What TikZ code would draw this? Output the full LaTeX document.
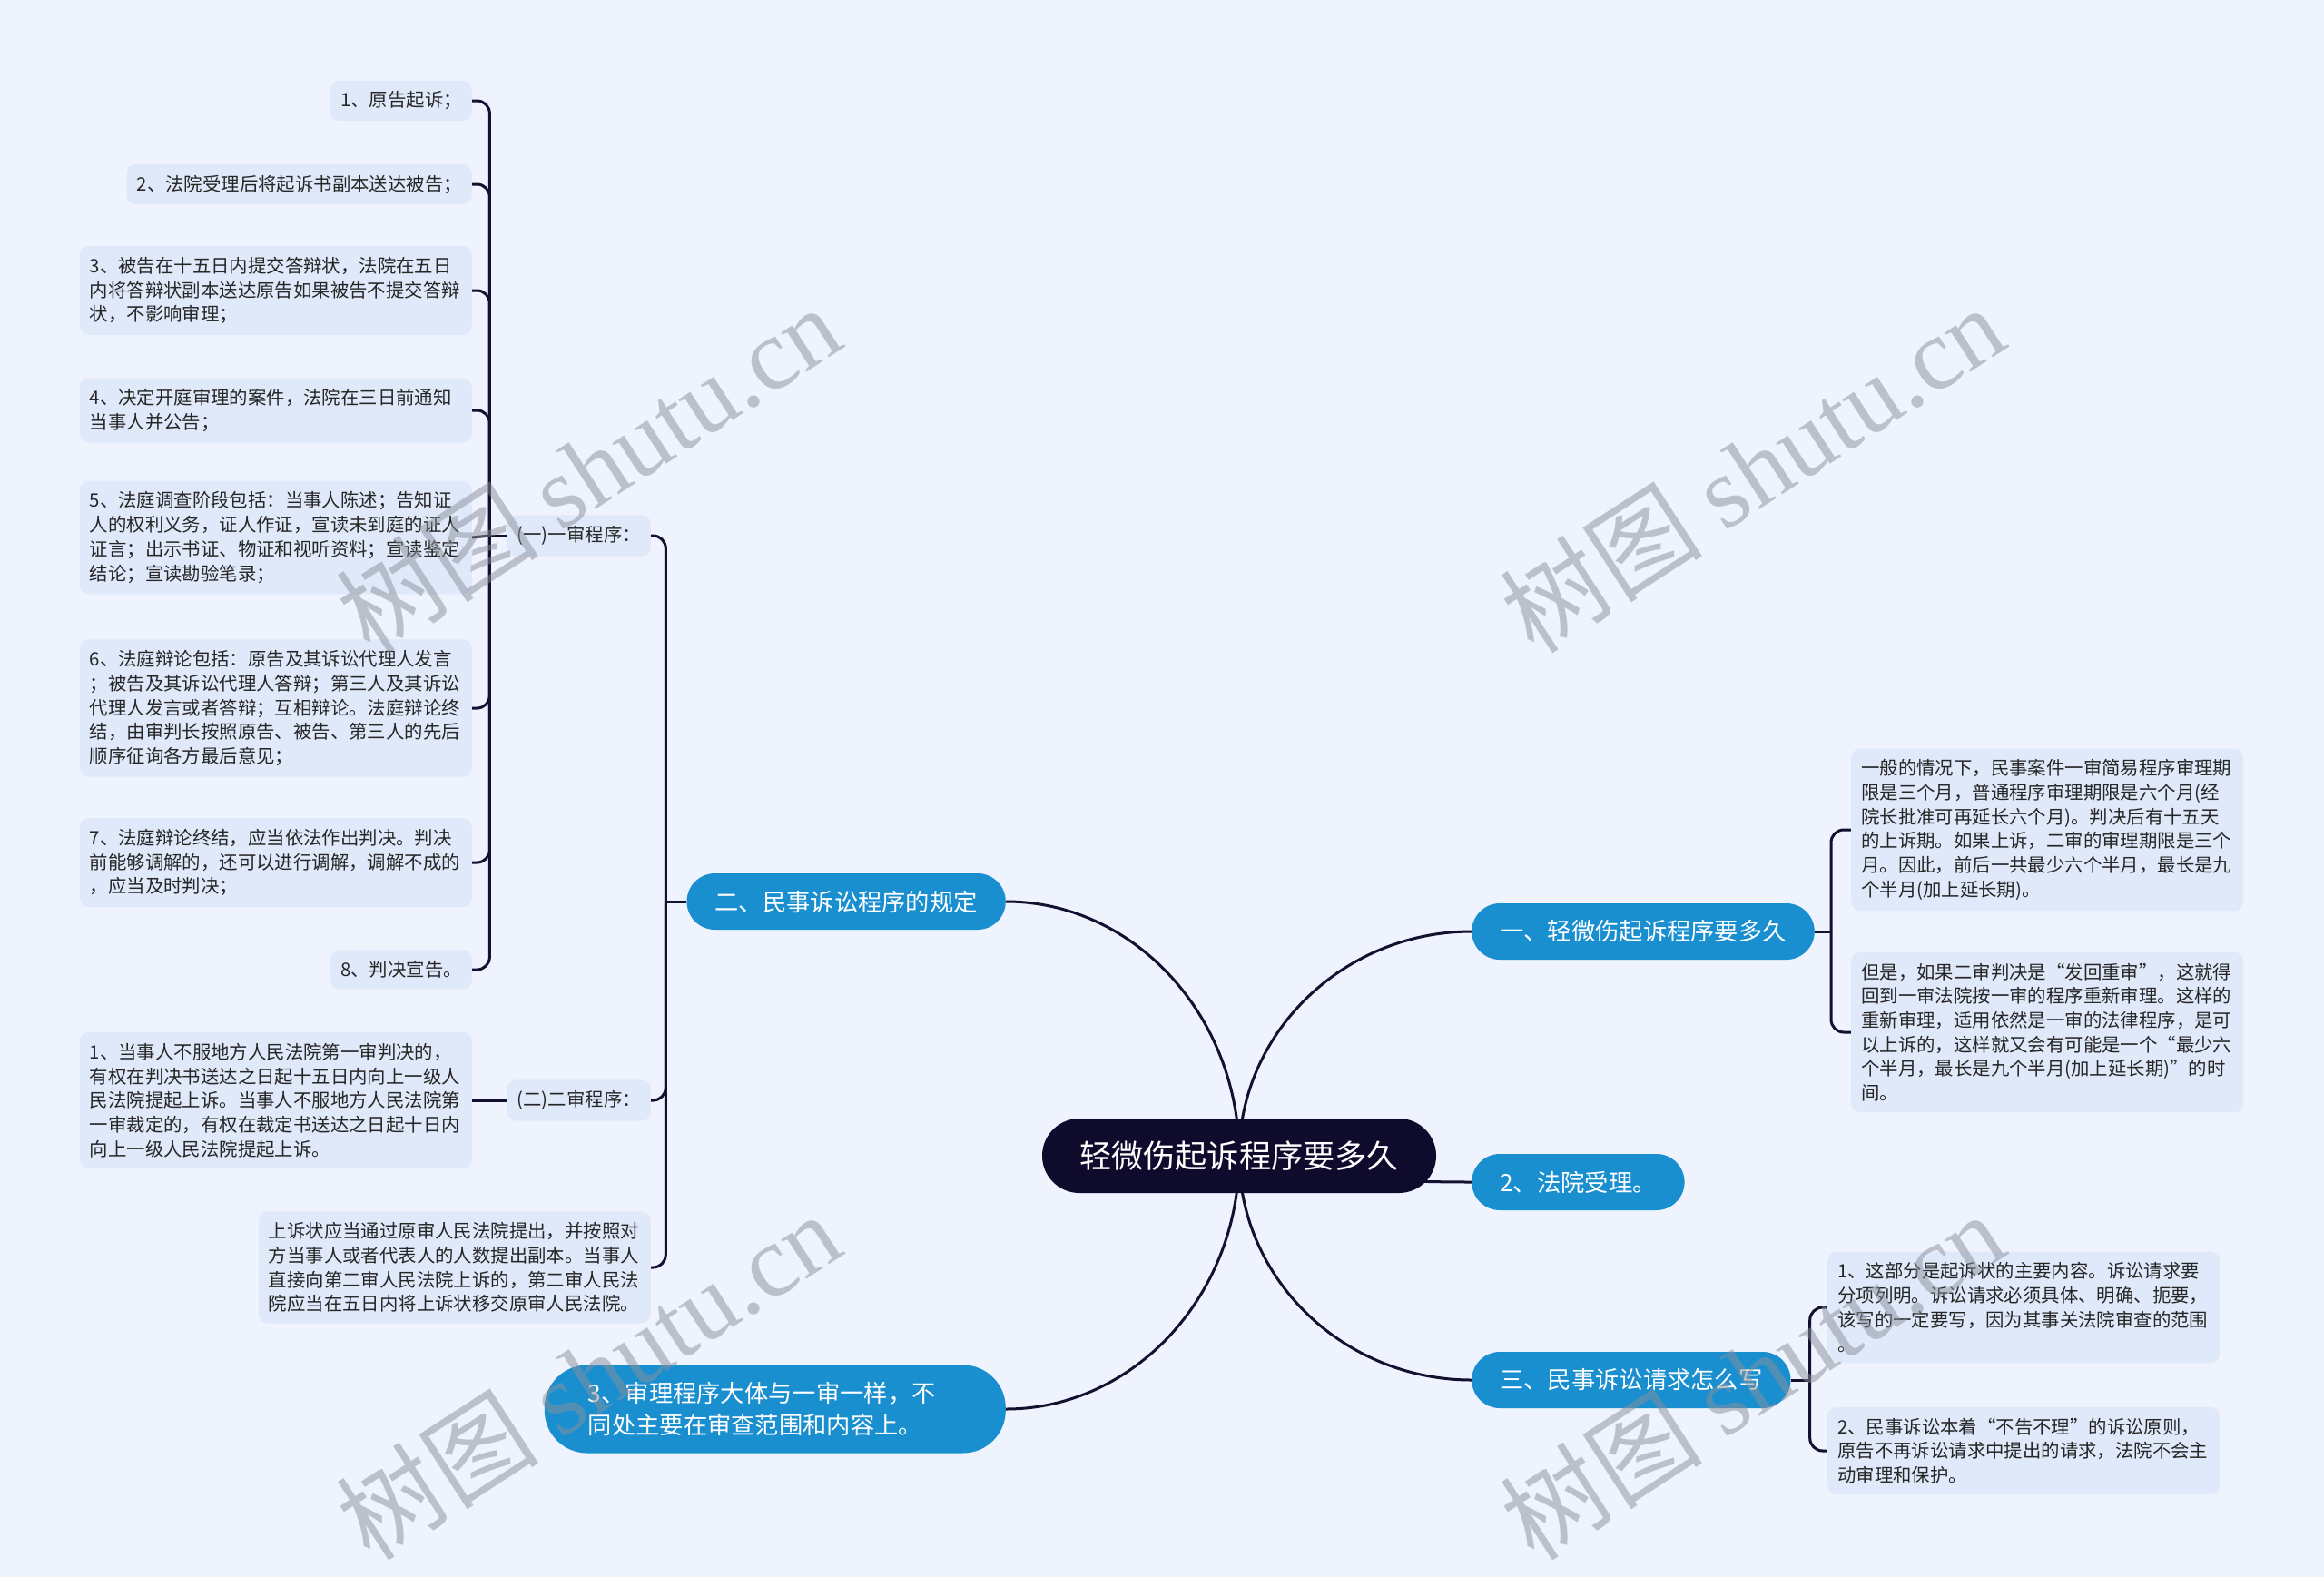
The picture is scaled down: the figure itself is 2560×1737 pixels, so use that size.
\documentclass[tikz,border=0pt]{standalone}
\usepackage{fontspec}
\setmainfont{Noto Sans CJK SC}
\newfontfamily\wmserif{Liberation Serif}
\newfontfamily\wmcjk{Noto Sans CJK SC}
\usetikzlibrary{backgrounds,calc}
\definecolor{bgc}{HTML}{EEF3FD}
\definecolor{leafc}{HTML}{E0E9FA}
\definecolor{brc}{HTML}{1A8FD0}
\definecolor{rootc}{HTML}{0F0B2D}
\definecolor{linec}{HTML}{12112F}
\definecolor{txtc}{HTML}{262626}
\definecolor{wmc}{HTML}{8A8F99}
\begin{document}
\begin{tikzpicture}[x=1pt,y=-1pt,
  rootn/.style={fill=rootc, text=white, rounded corners=41pt, minimum height=82pt, inner xsep=41pt, font=\fontsize{35.2}{42}\selectfont},
  brn/.style={fill=brc, text=white, rounded corners=31pt, minimum height=62pt, inner xsep=31pt, font=\fontsize{26.3}{35}\selectfont},
  leafn/.style={fill=leafc, text=txtc, rounded corners=10pt, inner xsep=11pt, inner ysep=12pt, align=left, font=\fontsize{20.4}{26.7}\selectfont},
  leafw/.style={leafn, text width=410pt},
  link/.style={draw=linec, line width=3pt},
  wm/.style={text=wmc, text opacity=0.5, font=\fontsize{112}{124}\selectfont, rotate=33}
]
\useasboundingbox (0,0) rectangle (2560,1737);

% root and main branches
\node[rootn] (root) at (1365,1273) {轻微伤起诉程序要多久};
\node[brn, anchor=west] (b1) at (1621,1026) {一、轻微伤起诉程序要多久};
\node[brn, anchor=west] (b2) at (1621,1302) {2、法院受理。};
\node[brn, anchor=west] (b3) at (1621,1520) {三、民事诉讼请求怎么写};
\node[brn, anchor=east] (b4) at (1108,993) {二、民事诉讼程序的规定};
\node[brn, anchor=east, align=left, text width=412pt, inner xsep=48pt, minimum height=97pt, rounded corners=47pt] (b5) at (1108,1552) {3、审理程序大体与一审一样，不\\同处主要在审查范围和内容上。};

% right leaves
\node[leafw, anchor=west] (lA) at (2039,914) {一般的情况下，民事案件一审简易程序审理期\\限是三个月，普通程序审理期限是六个月(经\\院长批准可再延长六个月)。判决后有十五天\\的上诉期。如果上诉，二审的审理期限是三个\\月。因此，前后一共最少六个半月，最长是九\\个半月(加上延长期)。};
\node[leafw, anchor=west] (lB) at (2039,1137) {但是，如果二审判决是“发回重审”，这就得\\回到一审法院按一审的程序重新审理。这样的\\重新审理，适用依然是一审的法律程序，是可\\以上诉的，这样就又会有可能是一个“最少六\\个半月，最长是九个半月(加上延长期)”的时\\间。};
\node[leafw, anchor=west] (lC) at (2013,1440) {1、这部分是起诉状的主要内容。诉讼请求要\\分项列明。诉讼请求必须具体、明确、扼要，\\该写的一定要写，因为其事关法院审查的范围\\。};
\node[leafw, anchor=west] (lD) at (2013,1598) {2、民事诉讼本着“不告不理”的诉讼原则，\\原告不再诉讼请求中提出的请求，法院不会主\\动审理和保护。};

% left sub nodes
\node[leafn, anchor=east] (s1) at (717,590) {(一)一审程序：};
\node[leafn, anchor=east] (s2) at (717,1212) {(二)二审程序：};
\node[leafw, anchor=east] (l10) at (717,1396) {上诉状应当通过原审人民法院提出，并按照对\\方当事人或者代表人的人数提出副本。当事人\\直接向第二审人民法院上诉的，第二审人民法\\院应当在五日内将上诉状移交原审人民法院。};

% left leaves
\node[leafn, anchor=east] (l1) at (520,111) {1、原告起诉；};
\node[leafn, anchor=east] (l2) at (520,203) {2、法院受理后将起诉书副本送达被告；};
\node[leafw, anchor=east] (l3) at (520,320) {3、被告在十五日内提交答辩状，法院在五日\\内将答辩状副本送达原告如果被告不提交答辩\\状，不影响审理；};
\node[leafw, anchor=east] (l4) at (520,452) {4、决定开庭审理的案件，法院在三日前通知\\当事人并公告；};
\node[leafw, anchor=east] (l5) at (520,592) {5、法庭调查阶段包括：当事人陈述；告知证\\人的权利义务，证人作证，宣读未到庭的证人\\证言；出示书证、物证和视听资料；宣读鉴定\\结论；宣读勘验笔录；};
\node[leafw, anchor=east] (l6) at (520,780) {6、法庭辩论包括：原告及其诉讼代理人发言\\；被告及其诉讼代理人答辩；第三人及其诉讼\\代理人发言或者答辩；互相辩论。法庭辩论终\\结，由审判长按照原告、被告、第三人的先后\\顺序征询各方最后意见；};
\node[leafw, anchor=east] (l7) at (520,950) {7、法庭辩论终结，应当依法作出判决。判决\\前能够调解的，还可以进行调解，调解不成的\\，应当及时判决；};
\node[leafn, anchor=east] (l8) at (520,1068) {8、判决宣告。};
\node[leafw, anchor=east] (l9) at (520,1212) {1、当事人不服地方人民法院第一审判决的，\\有权在判决书送达之日起十五日内向上一级人\\民法院提起上诉。当事人不服地方人民法院第\\一审裁定的，有权在裁定书送达之日起十日内\\向上一级人民法院提起上诉。};

\begin{scope}[on background layer]
\fill[bgc] (0,0) rectangle (2560,1737);
% root connectors
\foreach \t/\a in {b1/west,b2/west,b3/west,b4/east,b5/east}{
  \draw[link] (root.center) .. controls ($(root.center)!0.55!(root.center|-\t.\a)$) and ($(\t.\a)!0.55!(root.center|-\t.\a)$) .. (\t.\a);
}
% bracket for b1
\draw[link] (b1.east) -- ++(18,0) coordinate (j1);
\draw[link, rounded corners=14pt] (j1) |- (lA.west);
\draw[link, rounded corners=14pt] (j1) |- (lB.west);
% bracket for b3
\draw[link] (b3.east) -- ++(21,0) coordinate (j3);
\draw[link, rounded corners=14pt] (j3) |- (lC.west);
\draw[link, rounded corners=14pt] (j3) |- (lD.west);
% bracket for b4
\draw[link] (b4.west) -- ++(-23,0) coordinate (j4);
\draw[link, rounded corners=14pt] (j4) |- (s1.east);
\draw[link, rounded corners=14pt] (j4) |- (s2.east);
\draw[link, rounded corners=14pt] (j4) |- (l10.east);
% bracket for s1
\draw[link] (s1.west) -- ++(-19,0) coordinate (j5);
\foreach \l in {l1,l2,l3,l4,l6,l7,l8}{
  \draw[link, rounded corners=14pt] (j5) |- (\l.east);
}
\draw[link] (j5) -- (l5.east);
% s2 to its leaf
\draw[link] (s2.west) -- (l9.east);
\end{scope}

% watermarks
\node[wm] (wm1) at (648,516) {\wmcjk 树图 \wmserif shutu.cn};
\node[wm] (wm2) at (1930,516) {\wmcjk 树图 \wmserif shutu.cn};
\node[wm] (wm3) at (648,1515) {\wmcjk 树图 \wmserif shutu.cn};
\node[wm] (wm4) at (1930,1515) {\wmcjk 树图 \wmserif shutu.cn};
\end{tikzpicture}
\end{document}
